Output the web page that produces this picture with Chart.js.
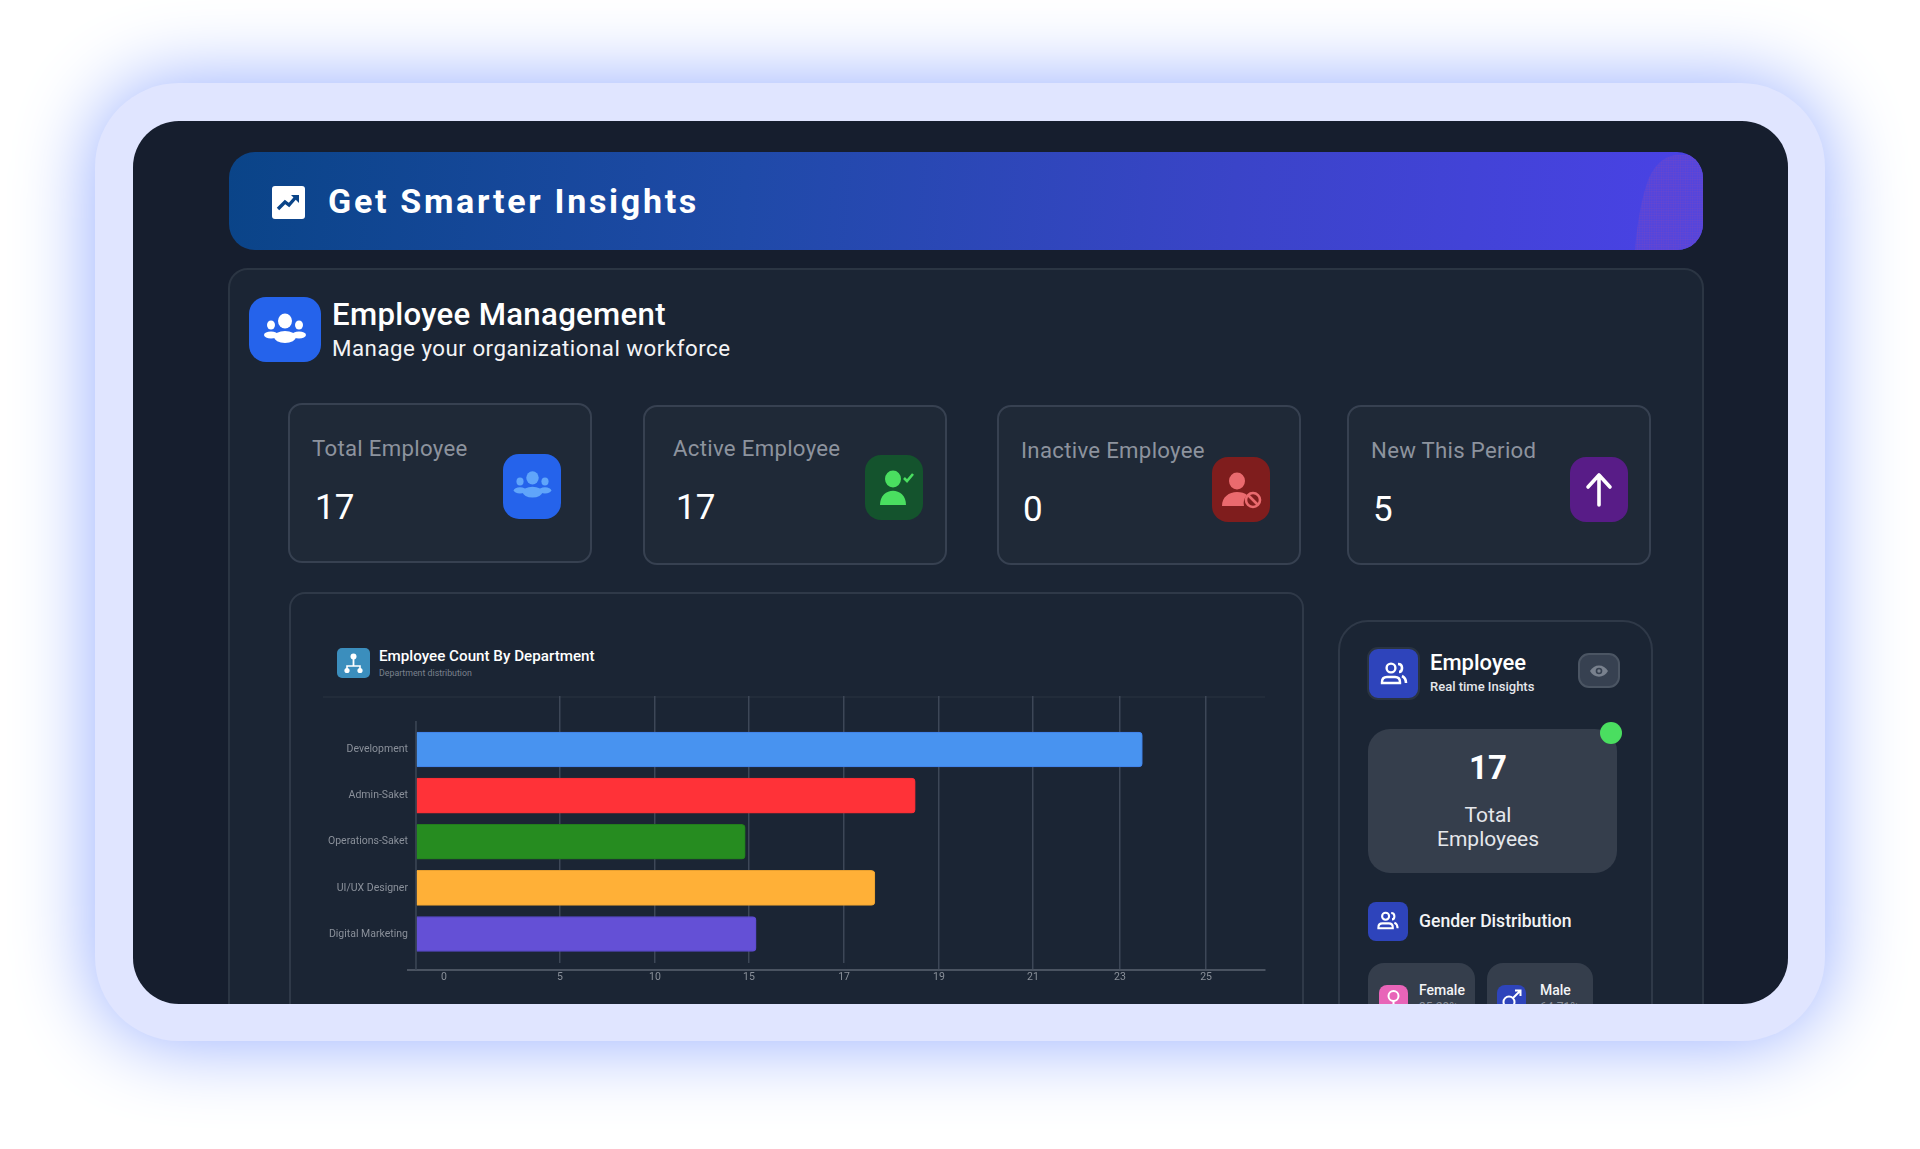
<!DOCTYPE html>
<html><head><meta charset="utf-8">
<script src="https://cdn.jsdelivr.net/npm/chart.js@4"></script>
<style>
html,body{margin:0;padding:0;background:#fff;width:1920px;height:1149px;overflow:hidden;font-family:Roboto,sans-serif}
div,svg,canvas{position:absolute;box-sizing:border-box}
.t{white-space:nowrap;transform:translateY(-50%)}
.card{background:#1f2937;border:2px solid #374151;border-radius:14px;width:304px;height:160px}
.ic{border-radius:16px;width:58px;height:65px}
.lab{font-size:22.2px;color:#8d939e;letter-spacing:.3px}
.val{font-size:35px;color:#fff}
</style></head><body>
<div id="frame" style="left:95px;top:83px;width:1730px;height:958px;background:#e0e5ff;border-radius:84px;box-shadow:0 0 80px #93abff"></div>
<div id="screen" style="left:133px;top:121px;width:1655px;height:883px;background:#161e2e;border-radius:46px;overflow:hidden">
 <div style="left:-133px;top:-121px;width:1920px;height:1149px">
  <!-- banner -->
  <div style="left:229px;top:152px;width:1474px;height:98px;border-radius:26px;background:linear-gradient(95deg,#0a4488 0%,#1f4aa8 35%,#3a44c8 68%,#4a42e6 100%);overflow:hidden">
   <svg style="left:1400px;top:0" width="74" height="98" viewBox="0 0 74 98"><defs><pattern id="dots" width="2.4" height="2.4" patternUnits="userSpaceOnUse"><rect width="2.4" height="2.4" fill="#4f45e0"/><circle cx="1.2" cy="1.2" r=".9" fill="#6a46cc"/></pattern></defs><path d="M6 98C8 70 14 40 20 26C27 10 38 3 50 3L74 3V98Z" fill="url(#dots)"/></svg>
  </div>
  <svg style="left:272px;top:186px" width="33" height="33" viewBox="0 0 33 33"><rect width="33" height="33" rx="3" fill="#fff"/><path d="M6 23l7-7 4 3 7-8" fill="none" stroke="#0a4488" stroke-width="3.4"/><path d="M19 9h8v8z" fill="#0a4488"/></svg>
  <div class="t" style="left:328px;top:201px;font-size:34px;font-weight:700;color:#fff;letter-spacing:2.7px">Get Smarter Insights</div>

  <!-- main panel -->
  <div style="left:228px;top:268px;width:1476px;height:900px;background:#1b2534;border:2px solid #2b3543;border-radius:20px"></div>
  <div style="left:249px;top:297px;width:72px;height:65px;background:#2563eb;border-radius:17px"></div>
  <svg style="left:262px;top:306px" width="46" height="46" viewBox="0 0 46 46" fill="#fff"><ellipse cx="23" cy="15" rx="7" ry="7.5"/><ellipse cx="9" cy="19" rx="4" ry="4.5"/><ellipse cx="37" cy="19" rx="4" ry="4.5"/><ellipse cx="23" cy="31" rx="11" ry="6"/><ellipse cx="9" cy="29" rx="7" ry="3.4"/><ellipse cx="37" cy="29" rx="7" ry="3.4"/></svg>
  <div class="t" style="left:332px;top:314px;font-size:31.2px;font-weight:500;color:#fff;letter-spacing:.3px">Employee Management</div>
  <div class="t" style="left:332px;top:348px;font-size:22.3px;color:#f3f4f6;letter-spacing:.5px">Manage your organizational workforce</div>

  <!-- KPI cards -->
  <div class="card" style="left:288px;top:403px"></div>
  <div class="t lab" style="left:312px;top:448px">Total Employee</div>
  <div class="t val" style="left:315px;top:507px">17</div>
  <div class="ic" style="left:503px;top:454px;background:#2563eb"></div>
  <svg style="left:512px;top:463px" width="41" height="44" viewBox="0 0 46 46" fill="#60a5fa"><ellipse cx="23" cy="15" rx="7" ry="7.5"/><ellipse cx="9" cy="19" rx="4" ry="4.5"/><ellipse cx="37" cy="19" rx="4" ry="4.5"/><ellipse cx="23" cy="31" rx="11" ry="6"/><ellipse cx="9" cy="29" rx="7" ry="3.4"/><ellipse cx="37" cy="29" rx="7" ry="3.4"/></svg>

  <div class="card" style="left:643px;top:405px"></div>
  <div class="t lab" style="left:673px;top:448px">Active Employee</div>
  <div class="t val" style="left:676px;top:507px">17</div>
  <div class="ic" style="left:865px;top:455px;background:#14532d"></div>
  <svg style="left:865px;top:455px" width="58" height="65" viewBox="0 0 58 65" fill="#4ade60"><ellipse cx="28" cy="24" rx="8" ry="8.5"/><path d="M15 50c0-19 26-19 26 0z"/><path d="M39 23l3 3 6-7" fill="none" stroke="#4ade60" stroke-width="2.6"/></svg>

  <div class="card" style="left:997px;top:405px"></div>
  <div class="t lab" style="left:1021px;top:450px">Inactive Employee</div>
  <div class="t val" style="left:1023px;top:509px">0</div>
  <div class="ic" style="left:1212px;top:457px;background:#7f1d1d"></div>
  <svg style="left:1212px;top:457px" width="58" height="65" viewBox="0 0 58 65" fill="#ea6a6e"><ellipse cx="25" cy="24" rx="8" ry="8.5"/><path d="M10 49c0-9 7-14 15-14 4 0 8 1 10 3-3 3-4 7-3 11z"/><circle cx="41" cy="43" r="7" fill="none" stroke="#ea6a6e" stroke-width="2.6"/><path d="M36 38l10 10" stroke="#ea6a6e" stroke-width="2.6"/></svg>

  <div class="card" style="left:1347px;top:405px"></div>
  <div class="t lab" style="left:1371px;top:450px">New This Period</div>
  <div class="t val" style="left:1373px;top:509px">5</div>
  <div class="ic" style="left:1570px;top:457px;background:#581c87"></div>
  <svg style="left:1570px;top:457px" width="58" height="65" viewBox="0 0 58 65" fill="none" stroke="#fff" stroke-width="3.6" stroke-linecap="round" stroke-linejoin="round"><path d="M29 48V19M18 30l11-12 11 12"/></svg>

  <!-- chart panel -->
  <div style="left:289px;top:592px;width:1015px;height:500px;border:2px solid #2f3948;border-radius:16px"></div>
  <div style="left:337px;top:648px;width:33px;height:30px;background:#3b8ebd;border-radius:5px"></div>
  <svg style="left:337px;top:648px" width="33" height="30" viewBox="0 0 33 30" fill="#fff"><circle cx="16.5" cy="8.5" r="3"/><rect x="15.6" y="10" width="1.8" height="8"/><path d="M10 23v-5h13v5" fill="none" stroke="#fff" stroke-width="1.6"/><circle cx="10" cy="22.5" r="2.6"/><circle cx="23" cy="22.5" r="2.6"/></svg>
  <div class="t" style="left:379px;top:656px;font-size:15.2px;font-weight:500;color:#fff">Employee Count By Department</div>
  <div class="t" style="left:379px;top:673px;font-size:8.8px;color:#7a818d">Department distribution</div>
  <div style="left:323px;top:696px;width:942px;height:2px;background:#222c3a"></div>
  <div style="left:290px;top:680px;width:990px;height:325px"><canvas id="chart" width="990" height="325" style="left:0;top:0;width:990px;height:325px"></canvas></div>

  <!-- side panel -->
  <div style="left:1338px;top:620px;width:315px;height:500px;border:2px solid #2f3948;border-radius:30px"></div>
  <div style="left:1367px;top:647px;width:53px;height:53px;background:#2e44bb;border:2px solid #2a3442;border-radius:11px"></div>
  <svg style="left:1379px;top:659px" width="30" height="30" viewBox="0 0 30 30" fill="none" stroke="#fff" stroke-width="2.4"><circle cx="12" cy="9" r="4.4"/><path d="M3 23c0-3 2-5 5-5h8c3 0 5 2 5 5v1H3z"/><path d="M19 5c3 0 4 2 4 4s-1 4-3 4M23 17c2 1 4 3 4 7" stroke-width="2.6"/></svg>
  <div class="t" style="left:1430px;top:662px;font-size:22px;font-weight:500;color:#fff">Employee</div>
  <div class="t" style="left:1430px;top:686px;font-size:13px;font-weight:500;color:#e5e7eb">Real time Insights</div>
  <div style="left:1578px;top:653px;width:42px;height:35px;background:#374151;border:2px solid #4b5563;border-radius:11px"></div>
  <svg style="left:1589px;top:661px" width="20" height="20" viewBox="0 0 20 20"><path d="M1 10c4-7.500 14-7.500 18 0-4 7.500-14 7.500-18 0z" fill="#79818e"/><circle cx="10" cy="10" r="3.300" fill="#374151"/><circle cx="10" cy="10" r="1.700" fill="#79818e"/></svg>
  <div style="left:1368px;top:729px;width:249px;height:144px;background:#353e4c;border-radius:22px"></div>
  <div style="left:1600px;top:722px;width:22px;height:22px;background:#4ade60;border-radius:50%"></div>
  <div class="t" style="left:1368px;width:240px;top:767px;font-size:33px;font-weight:700;color:#fff;text-align:center">17</div>
  <div class="t" style="left:1368px;width:240px;top:815px;font-size:21px;color:#e5e7eb;text-align:center">Total</div>
  <div class="t" style="left:1368px;width:240px;top:839px;font-size:21px;color:#e5e7eb;text-align:center">Employees</div>
  <div style="left:1368px;top:902px;width:40px;height:39px;background:#2e44bb;border-radius:8px"></div>
  <svg style="left:1376px;top:909px" width="24" height="24" viewBox="0 0 30 30" fill="none" stroke="#fff" stroke-width="2.6"><circle cx="12" cy="9" r="4.4"/><path d="M3 23c0-3 2-5 5-5h8c3 0 5 2 5 5v1H3z"/><path d="M19 5c3 0 4 2 4 4s-1 4-3 4M23 17c2 1 4 3 4 7"/></svg>
  <div class="t" style="left:1419px;top:921px;font-size:17.6px;font-weight:500;color:#f3f4f6">Gender Distribution</div>
  <div style="left:1368px;top:963px;width:107px;height:100px;background:#353e4c;border-radius:16px"></div>
  <div style="left:1487px;top:963px;width:106px;height:100px;background:#353e4c;border-radius:16px"></div>
  <div style="left:1379px;top:985px;width:29px;height:29px;background:#e864b8;border-radius:8px"></div>
  <svg style="left:1379px;top:985px" width="29" height="29" viewBox="0 0 29 29" fill="none" stroke="#fff" stroke-width="2"><circle cx="14.500" cy="11" r="5"/><path d="M14.500 16v10M10 21h9"/></svg>
  <div style="left:1497px;top:985px;width:29px;height:29px;background:#2e44bb;border-radius:8px"></div>
  <svg style="left:1497px;top:985px" width="29" height="29" viewBox="0 0 29 29" fill="none" stroke="#fff" stroke-width="2"><circle cx="12" cy="17" r="5.500"/><path d="M16 13l7-7M18 5.500h5.500V11"/></svg>
  <div class="t" style="left:1419px;top:990px;font-size:14px;font-weight:500;color:#f3f4f6">Female</div>
  <div class="t" style="left:1540px;top:990px;font-size:14px;font-weight:500;color:#f3f4f6">Male</div>
  <div class="t" style="left:1419px;top:1007px;font-size:12px;color:#8a8f99">35.29%</div>
  <div class="t" style="left:1540px;top:1007px;font-size:12px;color:#8a8f99">64.71%</div>
 </div>
</div>
<script>
const departments = ["Development", "Admin-Saket", "Operations-Saket", "UI/UX Designer", "Digital Marketing"];
const employeeCounts = [23.52, 18.5, 14.8, 17.65, 15.15];
const barColors = ["#4893f0", "#ff3238", "#268c20", "#ffb037", "#6450d6"];
const barEdges = ["#3f7fe8", "#f52c33", "#227d1c", "#e8a030", "#5a48cc"];
const xTickValues = [0, 5, 10, 15, 17, 19, 21, 23, 25];
// The source axis is not evenly spaced: share of the axis width reached by each value.
const axisValues = [-1, 0, 5, 10, 15, 17, 19, 21, 23, 25, 26.36];
const axisShares = [0, .0093, .1774, .2882, .3979, .5088, .6196, .7293, .8308, .9312, 1];

class PiecewiseScale extends Chart.LinearScale {
  static id = 'piecewise';
  static defaults = Chart.LinearScale.defaults;
  getPixelForValue(v) {
    let i = 0;
    while (i < axisValues.length - 2 && v > axisValues[i + 1]) i++;
    const f = (v - axisValues[i]) / (axisValues[i + 1] - axisValues[i]);
    return this.getPixelForDecimal(axisShares[i] + f * (axisShares[i + 1] - axisShares[i]));
  }
  _computeLabelItems(area) {
    const items = super._computeLabelItems(area);
    if (items.length) items[0].options.translation[0] += 28; // the zero label sits right of the baseline
    return items;
  }
}
class PaddedCategoryScale extends Chart.CategoryScale {
  static id = 'paddedCategory';
  static defaults = Chart.CategoryScale.defaults;
  buildTicks() {
    const t = super.buildTicks();
    this._startValue -= 0.66;
    this._valueRange += 0.94;
    return t;
  }
}
Chart.register(PiecewiseScale, PaddedCategoryScale);

const axisFinish = {
  id: 'axisFinish',
  beforeDatasetsDraw(chart) {
    const c = chart.ctx, sx = chart.scales.x, x = sx.getPixelForValue(0), a = chart.chartArea;
    c.save();
    // the four leftmost grid lines stop just short of the bottom axis
    c.fillStyle = '#1b2534';
    c.fillRect(a.left, a.bottom - 7, sx.getPixelForValue(17) + 2 - a.left, 6);
    c.strokeStyle = '#3d4757'; c.lineWidth = 1.5;
    c.beginPath(); c.moveTo(x, a.top + 25); c.lineTo(x, a.bottom); c.stroke();
    c.restore();
  }
};

new Chart(document.getElementById('chart'), {
  type: 'bar',
  data: { labels: departments, datasets: [{
    data: employeeCounts, backgroundColor: barColors, borderColor: barEdges, borderWidth: 1,
    barThickness: 35, borderRadius: { topRight: 4, bottomRight: 4 }, borderSkipped: 'left'
  }]},
  plugins: [axisFinish],
  options: {
    indexAxis: 'y', responsive: false, animation: false, devicePixelRatio: 1,
    layout: { padding: { top: 16, right: 15, left: 0, bottom: 0 } },
    plugins: { legend: { display: false }, tooltip: { enabled: false } },
    scales: {
      x: {
        type: 'piecewise', min: -1, max: 26.36,
        afterBuildTicks: s => { s.ticks = xTickValues.map(value => ({ value })); },
        afterFit: s => { s.height = 35; },
        grid: { drawTicks: false, lineWidth: 1.5, color: c => c.tick && c.tick.value === 0 ? 'transparent' : '#3d4757' },
        border: { color: '#4a5361', width: 2 },
        ticks: { color: '#8a909a', font: { family: 'Roboto', size: 10.5 }, padding: 1, autoSkip: false, maxRotation: 0, callback: v => v }
      },
      y: {
        type: 'paddedCategory', offset: true,
        afterFit: s => { s.width = 118; },
        grid: { display: false, drawTicks: false }, border: { display: false },
        ticks: { color: '#8a909a', font: { family: 'Roboto', size: 10.5 }, padding: 0, autoSkip: false }
      }
    }
  }
});
</script>
</body></html>
